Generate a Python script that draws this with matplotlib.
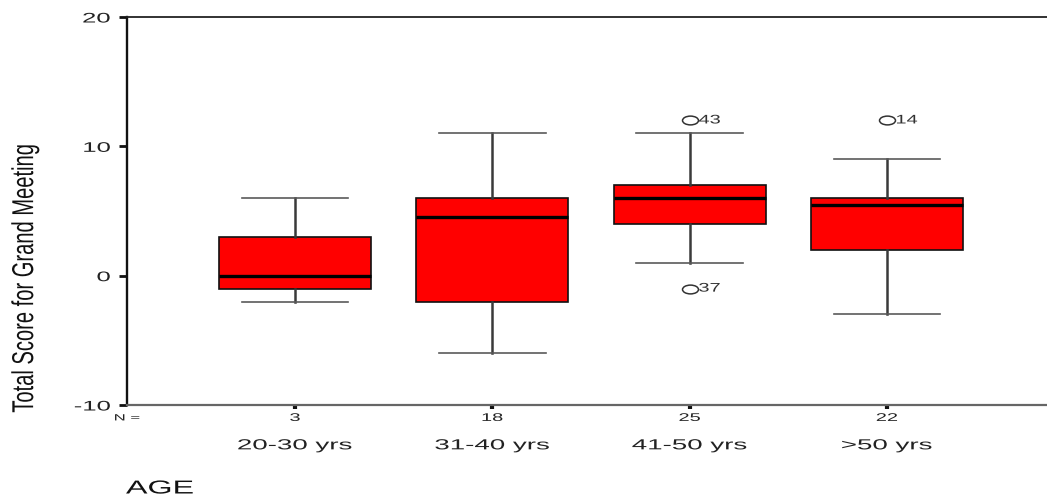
import matplotlib
matplotlib.use("Agg")
import matplotlib.pyplot as plt
from matplotlib.patheffects import AbstractPathEffect
from matplotlib.transforms import Affine2D
from matplotlib.path import Path

# ---- data -------------------------------------------------------------
groups = ["20-30 yrs", "31-40 yrs", "41-50 yrs", ">50 yrs"]
n_counts = [3, 18, 25, 22]
whisker_low = [-2, -6, 1, -3]
q1 = [-1, -2, 4, 2]
median = [0, 4.5, 6, 5.5]
q3 = [3, 6, 7, 6]
whisker_high = [6, 11, 11, 9]
outlier_values = [[], [], [12, -1], [12]]
outlier_ids = [[], [], [43, 37], [14]]
y_ticks = [-10, 0, 10, 20]

plt.rcParams["font.family"] = ["Liberation Sans", "DejaVu Sans"]
plt.rcParams["axes.unicode_minus"] = False


class Widen(AbstractPathEffect):
    """Stretch rendered text horizontally around a chosen anchor."""

    def __init__(self, sx, anchor="center"):
        super().__init__()
        self.sx = sx
        self.anchor = anchor

    def draw_path(self, renderer, gc, tpath, affine, rgbFace=None):
        ext = tpath.get_extents(affine)
        if self.anchor == "left":
            cx = ext.x0
        elif self.anchor == "right":
            cx = ext.x1
        else:
            cx = 0.5 * (ext.x0 + ext.x1)
        tr = affine + Affine2D().translate(-cx, 0).scale(self.sx, 1).translate(cx, 0)
        renderer.draw_path(gc, tpath, tr, rgbFace)


fig = plt.figure(figsize=(10.47, 5.02), dpi=100)
ax = fig.add_axes([127 / 1047, 1 - 406 / 502, 1 - 127 / 1047, 388 / 502])

positions = list(range(1, len(groups) + 1))
stats = []
for i, g in enumerate(groups):
    stats.append(dict(label=g, whislo=whisker_low[i], q1=q1[i], med=median[i],
                      q3=q3[i], whishi=whisker_high[i], fliers=outlier_values[i]))

ellipse = Path.unit_circle().transformed(Affine2D().scale(1.0, 0.55))

ax.bxp(stats, positions=positions, widths=0.77, capwidths=0.54,
       patch_artist=True, showfliers=True,
       boxprops=dict(facecolor="#ff0000", edgecolor="#111111", linewidth=1.2),
       medianprops=dict(color="#000000", linewidth=2.4, solid_capstyle="butt"),
       whiskerprops=dict(color="#3a3a3a", linewidth=1.8),
       capprops=dict(color="#5a5a5a", linewidth=1.2),
       flierprops=dict(marker=ellipse, markersize=11.5, markerfacecolor="none",
                       markeredgecolor="#333333", markeredgewidth=1.1, linestyle="none"))

# outlier case numbers
for i, (vals, ids) in enumerate(zip(outlier_values, outlier_ids)):
    for v, cid in zip(vals, ids):
        t = ax.annotate(str(cid), xy=(positions[i], v), xytext=(6.5, 0),
                        textcoords="offset points", ha="left", va="center",
                        fontsize=9, color="#333333")
        t.set_path_effects([Widen(1.6, "left")])

ax.set_xlim(1 - 168 / 197.3, 4 + 160 / 197.3)
ax.set_ylim(-10, 20)

# spines
ax.spines["right"].set_visible(False)
ax.spines["left"].set_linewidth(1.7)
ax.spines["left"].set_color("#111111")
ax.spines["top"].set_linewidth(1.3)
ax.spines["top"].set_color("#222222")
ax.spines["bottom"].set_linewidth(1.6)
ax.spines["bottom"].set_color("#666666")

# y axis
ax.set_yticks(y_ticks)
ax.tick_params(axis="y", direction="out", length=6, width=2.0, color="#111111",
               pad=6, labelsize=10, labelcolor="#222222")
for lbl in ax.get_yticklabels():
    lbl.set_path_effects([Widen(1.85, "right")])

# x axis: category names, group sizes below the axis line
ax.set_xticks(positions)
ax.set_xticklabels(groups)
ax.tick_params(axis="x", direction="out", length=3, width=3, color="#111111",
               pad=21, labelsize=10.5, labelcolor="#222222")
for lbl in ax.get_xticklabels():
    lbl.set_path_effects([Widen(1.9, "center")])

for p, n in zip(positions, n_counts):
    t = ax.text(p, -11.0, str(n), ha="center", va="center", fontsize=8,
                color="#222222", clip_on=False)
    t.set_path_effects([Widen(1.8, "center")])
t = ax.text(0.0, -11.0, "N =", transform=ax.get_yaxis_transform(),
            ha="center", va="center", fontsize=6.5, color="#222222", clip_on=False)
t.set_path_effects([Widen(1.85, "center")])

yl = fig.text(25 / 1047, 1 - 279 / 502, "Total Score for Grand Meeting",
              rotation=90, ha="center", va="center", fontsize=14.5, color="#111111")
yl.set_path_effects([Widen(1.5, "center")])

ag = fig.text(126 / 1047, 1 - 490 / 502, "AGE", ha="left", va="center",
              fontsize=13.5, color="#111111")
ag.set_path_effects([Widen(1.72, "left")])

fig.savefig("out.png", dpi=100)
